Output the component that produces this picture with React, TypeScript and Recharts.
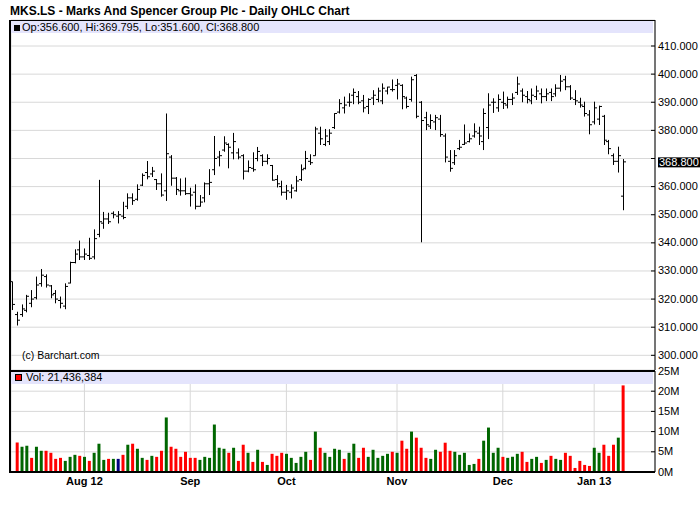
import {
  Bar,
  BarChart,
  CartesianGrid,
  Cell,
  ComposedChart,
  ReferenceLine,
  XAxis,
  YAxis,
} from "recharts";

// daily bars, 11 Jul 2012 .. 10 Jan 2013 (index = trading day)
const opens = [
  326.2, 314.5, 314.5, 316, 318.5, 320.5, 325.5, 328, 324.7, 322,
  319.5, 317.5, 325.7, 333, 337.5, 335, 335.5, 335, 343, 347,
  348.5, 350.5, 349.5, 349.5, 353, 356, 355.5, 360.5, 365, 364.5,
  362.5, 361, 358.5, 370.5, 363, 358.5, 358.5, 357.5, 358, 353,
  356, 361, 366, 370.5, 373, 375, 372, 372, 371, 365.5,
  366.5, 370, 371, 369, 367.5, 362.5, 360, 358, 358, 358.5,
  362.5, 366.5, 369, 371, 379, 375, 376, 381, 386.5, 388,
  390, 392.5, 392, 390.5, 388.5, 391.5, 391, 390.5, 394, 394.5,
  396, 396, 391.5, 391, 399.5, 390, 384.5, 381.5, 383, 384,
  378, 369, 368.5, 373.5, 375, 376, 378, 379, 376, 381,
  390, 388, 390, 389, 391, 393.5, 394, 392, 390.5, 392,
  393, 392, 393.5, 393, 395, 398, 395.5, 391, 390, 388.5,
  385.5, 383, 384, 385, 376, 371, 369, 356.6,
];
const highs = [
  326.2, 315.5, 318.1, 321.5, 323.2, 328, 330.7, 328.8, 325, 323.2,
  320.9, 325.6, 333.3, 337.7, 340.8, 338, 341.8, 344.8, 362.4, 351,
  350.7, 351.2, 351.3, 354.6, 357.6, 357.6, 360.8, 364.7, 369.1, 367,
  362.7, 364.7, 386, 371.2, 363.4, 362.9, 363.2, 359.6, 360.8, 357,
  361.5, 366.2, 378, 372.7, 377.9, 375.4, 379.1, 373.6, 371.5, 369.3,
  372.2, 374.1, 371.5, 371.5, 367.7, 364.1, 362.1, 360.6, 360.8, 363.8,
  367.9, 372.7, 371.5, 381.3, 381.3, 380.5, 380.4, 386.1, 391.1, 392,
  393.2, 394.9, 394, 392.6, 391.4, 394.3, 395.2, 396.7, 395.5, 398.1,
  398.3, 396.4, 392, 399.1, 400, 390.4, 386.6, 385.7, 385.5, 385.5,
  378.9, 373, 373, 376.6, 382.1, 378.9, 382.5, 381.3, 387.8, 393.2,
  391.4, 392.8, 393.8, 392, 393.2, 399.1, 394.9, 394, 394.9, 395.9,
  394.9, 394.9, 394.9, 396.4, 399.7, 399.4, 396.1, 394.3, 391.6, 390.2,
  387.2, 390.2, 388.8, 385.5, 376.6, 371.8, 374.2, 369.795,
];
const lows = [
  316.1, 310.6, 313.7, 315.3, 317.1, 319.9, 324.4, 324.1, 320.3, 318.5,
  316.7, 316.4, 325.6, 332.7, 333.9, 333.9, 333.9, 334.1, 342, 345,
  346.7, 348.7, 346.9, 348.4, 352, 353.5, 355, 360.2, 362.6, 363.4,
  358.8, 356.4, 354.9, 360.3, 357, 356.8, 357, 352.9, 351.9, 352.9,
  354.4, 357, 364.1, 367.2, 372.4, 366.5, 369.7, 369.7, 362.5, 365.1,
  365.3, 369, 367.3, 367.9, 362.1, 359.7, 356.8, 355.3, 355.8, 358.2,
  362, 366.1, 367.7, 371, 374.8, 374.4, 374.8, 380.5, 386, 386,
  388.4, 389.3, 389.3, 386.4, 385.8, 389, 390, 389.3, 392.8, 393.8,
  391, 387.5, 387.8, 390.2, 384.3, 340.2, 380.1, 380.5, 380.1, 377.7,
  368.6, 365.3, 367.7, 373, 374.8, 375.7, 377.4, 374.8, 373, 376.9,
  386.2, 386.6, 387.6, 387.8, 389, 392.6, 390, 389.6, 389.3, 390.8,
  389.6, 390.4, 390.4, 392, 393.8, 394.3, 390.8, 389, 388.1, 384.9,
  378.6, 382.1, 381.9, 374.8, 371.5, 367.7, 365, 351.6,
];
const closes = [
  318.1, 312.5, 316.5, 321, 320, 325, 328.5, 325, 321.5, 320,
  318.5, 324.5, 333, 336, 335, 336, 334.5, 341.5, 347.5, 348.5,
  347.5, 350, 350, 349, 356, 355, 359, 364, 363.5, 365.5,
  361, 357, 371.7, 363, 359, 358.5, 357.5, 357, 353, 354.5,
  361, 361.5, 370, 371, 375.5, 374, 376, 370.5, 365.5, 366.8,
  366, 372.5, 369, 370, 362.3, 361, 358, 358.5, 359.5, 362,
  366, 370, 368.5, 380.5, 377, 378, 379, 386, 389.5, 389,
  390, 393.5, 390, 388, 391, 392.5, 394, 395, 395.4, 394.5,
  396.5, 392, 388.5, 398, 385, 383.5, 382, 383.5, 384.5, 378.5,
  370.5, 366.5, 371, 374, 375.5, 377, 379.5, 378, 386, 389,
  390, 391, 389.5, 391, 391.5, 396.5, 392.5, 391, 392.5, 394,
  392, 393, 392, 395, 397.5, 395.5, 391.5, 390.5, 389, 386,
  382, 388, 388.5, 376.5, 373.5, 369, 371, 368.8,
];
// volume in millions of shares (first day not shown)
const volumes = [
  null, 7.33, 6.25, 6.5, 3.5, 6.25, 5.25, 5.25, 4.75, 3.25,
  3.5, 2.75, 3.75, 4.25, 4.0, 3.75, 2.75, 4.75, 7.0, 3.0,
  3.25, 3.25, 3.25, 4.25, 6.75, 7.0, 5.75, 3.5, 3.0, 4.0,
  3.75, 5.25, 13.5, 6.25, 5.75, 3.75, 5.0, 3.5, 3.5, 3.0,
  3.75, 3.5, 11.75, 6.0, 5.75, 4.75, 6.0, 2.75, 6.75, 4.75,
  2.5, 5.5, 2.5, 1.75, 4.5, 4.0, 4.75, 4.5, 3.5, 2.25,
  3.75, 5.0, 3.0, 10.0, 6.0, 4.75, 3.75, 5.75, 5.5, 3.25,
  4.75, 7.0, 3.5, 6.0, 3.75, 5.5, 3.5, 4.0, 4.5, 5.0,
  4.75, 7.75, 5.75, 10.0, 8.5, 6.0, 3.5, 3.25, 5.5, 5.0,
  7.25, 5.25, 5.0, 4.25, 4.75, 1.75, 2.0, 3.25, 7.75, 11.0,
  4.75, 6.0, 3.75, 3.5, 3.75, 4.5, 5.0, 2.5, 3.25, 3.75,
  2.25, 3.0, 4.0, 3.25, 3.0, 4.75, 4.0, 1.0, 2.75, 1.75,
  1.5, 6.0, 4.75, 6.75, 4.0, 6.75, 8.5, 21.436384,
];

const monthTickIdx = [15, 37, 57, 80, 102, 121];
const monthTickLabels = ["Aug 12", "Sep", "Oct", "Nov", "Dec", "Jan 13"];
const priceTicks = [300, 310, 320, 330, 340, 350, 360, 370, 380, 390, 400, 410];
const volumeTicks = [0, 5, 10, 15, 20, 25];
const lastPrice = 368.8;

const FONT = '"Liberation Sans", Arial, Helvetica, sans-serif';
const GRID = "#d8d8d8";
const BAND = "#e4e4fc";
const X_DOMAIN: [number, number] = [-0.27, 133.65];

const rows = opens.map((o, i) => {
  const prev = i > 0 ? closes[i - 1] : closes[i];
  const volColor =
    closes[i] > prev ? "#006600" : closes[i] < prev ? "#ff0000" : "#000080";
  return {
    i,
    open: o,
    high: highs[i],
    low: lows[i],
    close: closes[i],
    range: [lows[i], highs[i]],
    vol: volumes[i],
    volColor,
  };
});

function OhlcShape(props: any) {
  const { x, y, width, height, payload } = props;
  if (x == null || y == null) return null;
  const top = Math.min(y, y + height);
  const h = Math.abs(height);
  const k = h / (payload.high - payload.low || 1);
  const cx = Math.round(x + width / 2) + 0.5;
  const oy = top + (payload.high - payload.open) * k;
  const cy = top + (payload.high - payload.close) * k;
  return (
    <g stroke="#000" strokeWidth={1}>
      <line x1={cx} x2={cx} y1={top} y2={top + h} />
      <line x1={cx - 2.5} x2={cx} y1={oy} y2={oy} />
      <line x1={cx} x2={cx + 2.5} y1={cy} y2={cy} />
    </g>
  );
}

// the last-price box sits over the nearest price label, so that label is left out
function AxisTick({ x, y, payload, suffix, digits }: any) {
  const covered = digits != null && Math.abs(payload.value - lastPrice) < 4;
  const label =
    digits != null ? payload.value.toFixed(digits) : `${payload.value}${suffix}`;
  return (
    <g>
      <line x1={x - 7} x2={x - 3} y1={y} y2={y} stroke="#000" />
      {!covered && (
        <text x={x} y={y} dy={3.5} fontSize={11} fontFamily={FONT} fill="#000" textAnchor="start">
          {label}
        </text>
      )}
    </g>
  );
}

function LastPriceLabel({ viewBox }: any) {
  if (!viewBox) return null;
  const x = viewBox.x + viewBox.width + 3;
  const y = viewBox.y;
  return (
    <g>
      <rect x={x} y={y - 4.5} width={42} height={10} fill="#000" />
      <text x={x + 1} y={y + 4} fontSize={11} fontFamily={FONT} fill="#fff">
        {lastPrice.toFixed(3)}
      </text>
    </g>
  );
}

const abs = (s: any) => ({ position: "absolute" as const, ...s });

export default function App() {
  return (
    <div style={abs({ left: 0, top: 0, width: 700, height: 512, background: "#fff", overflow: "hidden", fontFamily: FONT })}>
      <div style={abs({ left: 0, top: 0 })}>
        <ComposedChart width={700} height={380} data={rows} margin={{ top: 20, right: 0, bottom: 10, left: 11 }}>
          <CartesianGrid stroke={GRID} />
          <XAxis
            type="number"
            dataKey="i"
            domain={X_DOMAIN}
            ticks={monthTickIdx}
            interval={0}
            height={0}
            tick={false}
            tickLine={false}
            axisLine={false}
          />
          <YAxis
            orientation="right"
            width={45}
            domain={[294.78, 419.25]}
            ticks={priceTicks}
            interval={0}
            allowDataOverflow
            axisLine={{ stroke: "#000" }}
            tickLine={false}
            tickSize={0}
            tickMargin={3}
            tick={<AxisTick digits={3} />}
          />
          <Bar dataKey="range" barSize={5} shape={<OhlcShape />} isAnimationActive={false} />
          <ReferenceLine y={lastPrice} stroke="none" label={<LastPriceLabel />} />
        </ComposedChart>
      </div>

      <div style={abs({ left: 0, top: 0 })}>
        <BarChart width={700} height={512} data={rows} margin={{ top: 371, right: 0, bottom: 10, left: 11 }}>
          <CartesianGrid stroke={GRID} />
          <XAxis
            type="number"
            dataKey="i"
            domain={X_DOMAIN}
            ticks={monthTickIdx}
            interval={0}
            height={30}
            tickFormatter={(v: number) => monthTickLabels[monthTickIdx.indexOf(v)]}
            tick={{ fontSize: 11, fontWeight: "bold", fill: "#000", fontFamily: FONT }}
            axisLine={{ stroke: "#000", strokeWidth: 2 }}
            tickLine={false}
            tickSize={3}
            tickMargin={2}
          />
          <YAxis
            orientation="right"
            width={45}
            domain={[0, 25]}
            ticks={volumeTicks}
            interval={0}
            axisLine={{ stroke: "#000" }}
            tickLine={false}
            tickSize={0}
            tickMargin={3}
            tick={<AxisTick suffix="M" />}
          />
          <Bar dataKey="vol" barSize={3} isAnimationActive={false}>
            {rows.map((r) => (
              <Cell key={r.i} fill={r.volColor} />
            ))}
          </Bar>
        </BarChart>
      </div>

      {/* frame */}
      <div style={abs({ left: 9, top: 20, width: 2, height: 453, background: "#000" })} />
      <div style={abs({ left: 9, top: 20, width: 646, height: 1, background: "#000" })} />
      <div style={abs({ left: 9, top: 370, width: 646, height: 2, background: "#000" })} />

      {/* title + legend bands */}
      <div style={abs({ left: 10, top: 5, fontSize: 12, lineHeight: "12px", fontWeight: "bold", whiteSpace: "nowrap" })}>
        MKS.LS - Marks And Spencer Group Plc - Daily OHLC Chart
      </div>
      <div style={abs({ left: 11, top: 21, width: 642, height: 12, background: BAND })} />
      <div style={abs({ left: 14, top: 25, width: 6, height: 6, background: "#000" })} />
      <div style={abs({ left: 22, top: 22, fontSize: 11, lineHeight: "11px", whiteSpace: "nowrap" })}>
        Op:356.600, Hi:369.795, Lo:351.600, Cl:368.800
      </div>
      <div style={abs({ left: 22, top: 350, fontSize: 10.5, lineHeight: "10.5px", whiteSpace: "nowrap" })}>
        (c) Barchart.com
      </div>
      <div style={abs({ left: 11, top: 372, width: 642, height: 12, background: BAND })} />
      <div style={abs({ left: 15, top: 374, width: 7, height: 7, background: "#ff0000", border: "1px solid #000", boxSizing: "border-box" })} />
      <div style={abs({ left: 26, top: 372, fontSize: 11, lineHeight: "11px", whiteSpace: "nowrap" })}>
        Vol: 21,436,384
      </div>
    </div>
  );
}
